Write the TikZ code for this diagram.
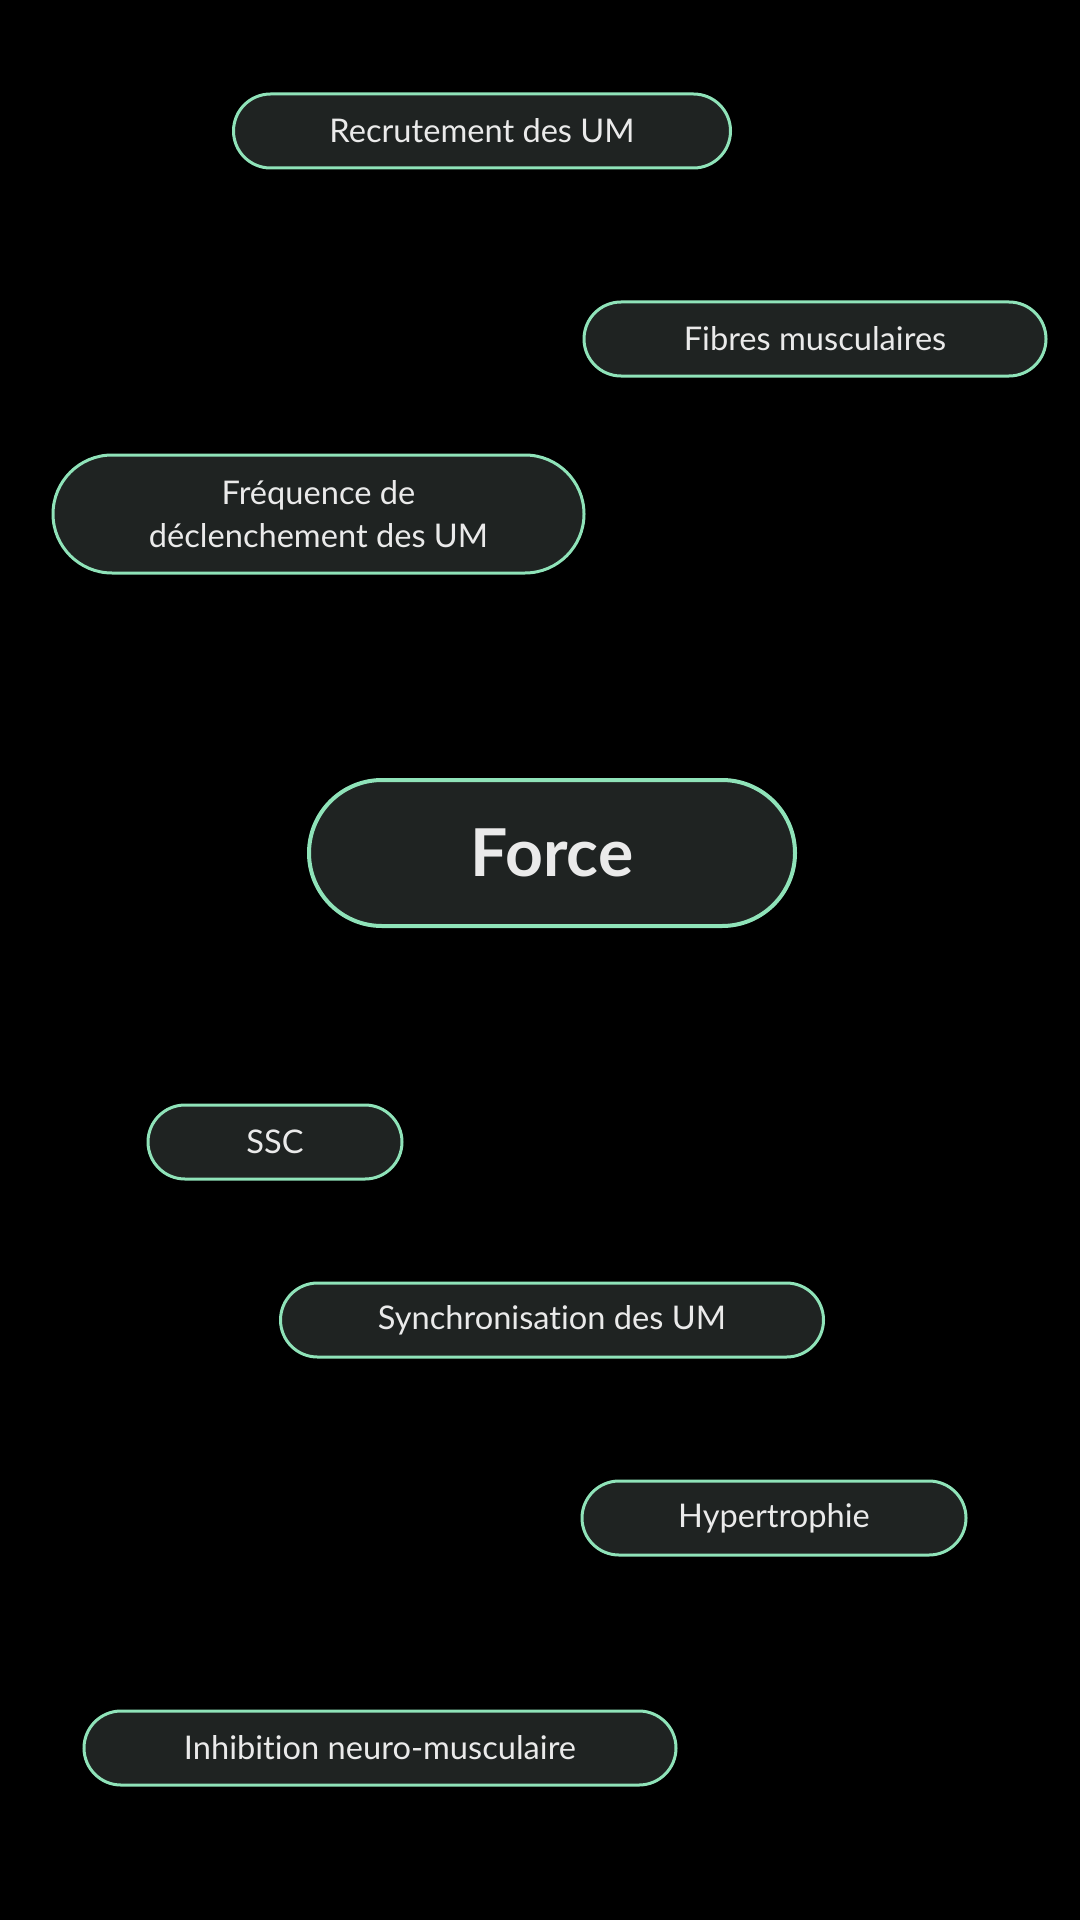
\documentclass[tikz,border=0pt]{standalone}
\usepackage{fontspec}
\setmainfont{Lato}[RawFeature={-liga}]
\definecolor{pillfill}{HTML}{1F2322}
\definecolor{pillline}{HTML}{8FE3B9}
\definecolor{pilltext}{HTML}{EAEAEA}
\begin{document}
\begin{tikzpicture}[x=0.5pt,y=-0.5pt,
    pill/.style={draw=pillline, fill=pillfill, text=pilltext, line width=1.5pt,
      rounded corners=18.5pt, minimum height=37pt, inner sep=0pt, align=center,
      font=\fontsize{16.3}{21.5}\selectfont},
    forcepill/.style={pill, line width=2pt, rounded corners=36.5pt,
      minimum height=73pt, font=\fontsize{33}{38}\selectfont\bfseries}]
      \fill[black] (0,0) rectangle (1080,1920);
      \node[pill, minimum width=248.5pt] (recrut) at (482,131) {Recrutement des UM};
      \node[pill, minimum width=231pt] (fibres) at (815,339) {Fibres musculaires};
      \node[pill, minimum width=265.5pt, minimum height=59pt, rounded corners=29.5pt] (freq) at (318.5,514) {Fréquence de\\déclenchement des UM};
      \node[forcepill, minimum width=243pt] (force) at (552,853) {Force};
      \node[pill, minimum width=127pt] (ssc) at (275,1142) {SSC};
      \node[pill, minimum width=271.5pt] (sync) at (552,1320) {Synchronisation des UM};
      \node[pill, minimum width=192pt] (hyper) at (774,1518) {Hypertrophie};
      \node[pill, minimum width=296pt] (inhib) at (380,1748) {Inhibition neuro-musculaire};
\end{tikzpicture}
\end{document}
